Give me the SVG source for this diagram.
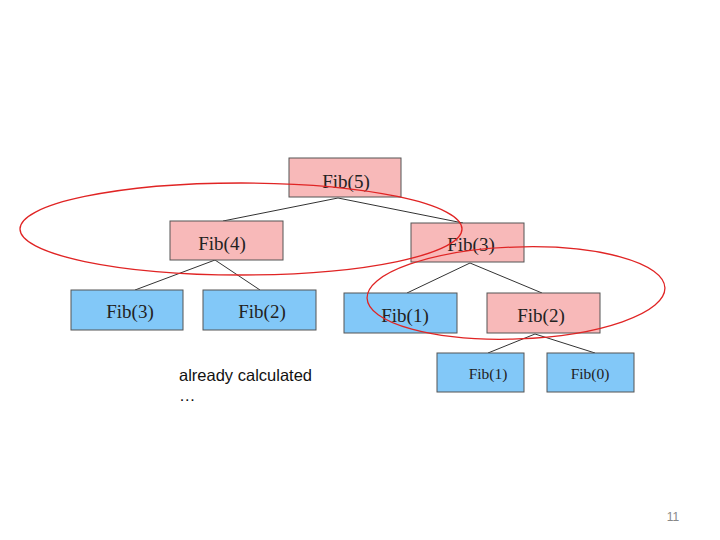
<svg xmlns="http://www.w3.org/2000/svg" width="720" height="540" viewBox="0 0 720 540">
<style>
.p{fill:#f8b9b9;stroke:#555;stroke-width:1}
.b{fill:#82c8f8;stroke:#555;stroke-width:1}
.t{font-family:"Liberation Serif","DejaVu Serif",serif;font-size:19px;fill:#222;text-anchor:middle}
.s{font-size:15.5px}
.e{fill:none;stroke:#e02424;stroke-width:1.3}
.c line{stroke:#333;stroke-width:1}
</style>
<rect width="720" height="540" fill="#fff"/>
<g class="c" id="connectors">
<line x1="338" y1="198" x2="223" y2="221"/>
<line x1="338" y1="198" x2="463" y2="223"/>
<line x1="215" y1="260" x2="135" y2="290"/>
<line x1="215" y1="260" x2="260" y2="290"/>
<line x1="470" y1="263" x2="407" y2="293"/>
<line x1="470" y1="263" x2="542" y2="293"/>
<line x1="535" y1="334" x2="488" y2="353"/>
<line x1="535" y1="334" x2="595" y2="353"/>
</g>
<g id="fib5"><rect class="p" x="289" y="158" width="112" height="39"/><text class="t" x="346" y="188">Fib(5)</text></g>
<g id="fib4"><rect class="p" x="170" y="221" width="113" height="39"/><text class="t" x="222" y="250">Fib(4)</text></g>
<g id="fib3a"><rect class="p" x="411" y="223" width="113" height="39"/><text class="t" x="471" y="251">Fib(3)</text></g>
<g id="fib3b"><rect class="b" x="71" y="290" width="112" height="40"/><text class="t" x="130" y="318">Fib(3)</text></g>
<g id="fib2b"><rect class="b" x="203" y="290" width="113" height="40"/><text class="t" x="262" y="318">Fib(2)</text></g>
<g id="fib1a"><rect class="b" x="344" y="293" width="113" height="40"/><text class="t" x="405" y="322">Fib(1)</text></g>
<g id="fib2a"><rect class="p" x="487" y="293" width="113" height="40"/><text class="t" x="541" y="322">Fib(2)</text></g>
<g id="fib1b"><rect class="b" x="437" y="353" width="87" height="39"/><text class="t s" x="488" y="379">Fib(1)</text></g>
<g id="fib0"><rect class="b" x="547" y="353" width="87" height="39"/><text class="t s" x="590" y="379">Fib(0)</text></g>
<ellipse class="e" cx="241" cy="229" rx="221" ry="46"/>
<ellipse class="e" cx="516" cy="293" rx="149" ry="46" transform="rotate(-2 516 293)"/>
<text x="179" y="381" font-family="'Liberation Sans','DejaVu Sans',sans-serif" font-size="16.5" fill="#111">already calculated</text>
<text x="179" y="401" font-family="'Liberation Sans','DejaVu Sans',sans-serif" font-size="16.5" fill="#111">…</text>
<text x="673" y="521" font-family="'Liberation Sans','DejaVu Sans',sans-serif" font-size="12" fill="#888" text-anchor="middle">11</text>
</svg>
